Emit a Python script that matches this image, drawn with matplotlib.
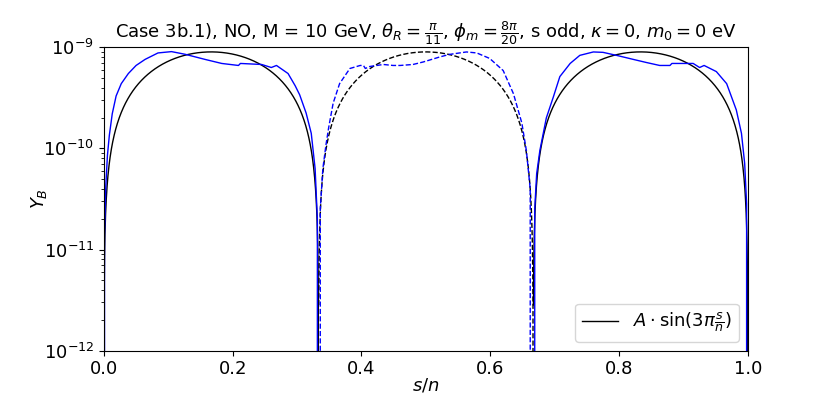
import numpy as np
import matplotlib
matplotlib.use("Agg")
import matplotlib.pyplot as plt

# ---- data ----
A = 9e-10  # amplitude of the reference curve A*sin(3*pi*s/n)

# blue curve, segment 1 (positive, solid)
seg1_s = [0.0, 0.001, 0.003, 0.0055, 0.0085, 0.013, 0.019, 0.027, 0.038, 0.05, 0.064, 0.084,
          0.105, 0.126, 0.157, 0.183, 0.209, 0.212, 0.245, 0.26, 0.268, 0.286, 0.297,
          0.304, 0.314, 0.322, 0.328, 0.3315, 1 / 3]
seg1_y = [0, 1.41e-11, 4.27e-11, 8.5e-11, 1.35e-10, 2.2e-10, 3.3e-10, 4.37e-10, 5.50e-10,
          6.61e-10, 7.59e-10, 8.79e-10, 9.06e-10, 8.53e-10, 7.59e-10, 6.92e-10, 6.61e-10,
          6.92e-10, 6.76e-10, 6.31e-10, 6.61e-10, 5.50e-10, 4.17e-10, 3.39e-10, 2.24e-10,
          1.41e-10, 6.31e-11, 2.0e-11, 0]

# blue curve, segment 2 (negative, dashed)
seg2_s = [1 / 3, 0.336, 0.34, 0.345, 0.349, 0.356, 0.366, 0.382, 0.398, 0.403, 0.406, 0.413,
          0.434, 0.449, 0.46, 0.48, 0.496, 0.522, 0.537, 0.563, 0.579, 0.599, 0.62, 0.636,
          0.649, 0.656, 0.662, 2 / 3]
seg2_y = [0, -2.5e-11, -6.3e-11, -1.1e-10, -1.6e-10, -2.8e-10, -4.37e-10, -6.17e-10,
          -6.61e-10, -6.61e-10, -6.17e-10, -6.46e-10, -6.76e-10, -6.61e-10, -6.61e-10,
          -6.76e-10, -7.16e-10, -8.04e-10, -8.51e-10, -8.99e-10, -8.79e-10, -7.76e-10,
          -5.89e-10, -3.47e-10, -1.78e-10, -9.55e-11, -3.98e-11, 0]

# blue curve, segment 3 (positive, solid)
seg3_s = [2 / 3, 0.669, 0.672, 0.677, 0.687, 0.698, 0.708, 0.724, 0.739, 0.76, 0.775, 0.796,
          0.822, 0.842, 0.863, 0.879, 0.882, 0.915, 0.925, 0.932, 0.951, 0.967, 0.982, 0.99,
          0.995, 0.998, 1.0]
seg3_y = [0, 2.51e-11, 5.62e-11, 9.55e-11, 2.0e-10, 3.24e-10, 5.13e-10, 6.92e-10, 8.32e-10,
          8.99e-10, 8.91e-10, 8.32e-10, 7.59e-10, 7.08e-10, 6.61e-10, 6.61e-10, 6.92e-10,
          6.92e-10, 6.31e-10, 6.61e-10, 5.75e-10, 4.37e-10, 2.40e-10, 1.41e-10, 7.08e-11,
          2.82e-11, 0]

title = (r"Case 3b.1), NO, M = 10 GeV, $\theta_R = \frac{\pi}{11}$, "
         r"$\phi_m = \frac{8\pi}{20}$, s odd, $\kappa = 0$, $m_0 = 0$ eV")
legend_label = r"$A \cdot \sin(3\pi\frac{s}{n})$"

# ---- plot ----
fig, ax = plt.subplots(figsize=(8.31, 3.94), dpi=100)

s = np.linspace(0, 1, 3001)
ref = A * np.sin(3 * np.pi * s)
pos = np.where(ref >= 0, ref, np.nan)
neg = np.where(ref <= 0, -ref, np.nan)
ax.plot(s, pos, color="black", lw=1, label=legend_label)
ax.plot(s, neg, color="black", lw=1, ls="--")

for xs, ys in [(seg1_s, seg1_y), (seg3_s, seg3_y)]:
    ax.plot(xs, np.abs(ys), color="blue", lw=1)
ax.plot(seg2_s, np.abs(seg2_y), color="blue", lw=1, ls="--")

ax.set_yscale("log")
ax.set_ylim(1e-12, 1e-9)
ax.set_xlim(0, 1)
ax.set_xlabel(r"$s/n$", fontsize=13, labelpad=-1)
ax.set_ylabel(r"$Y_B$", fontsize=13, labelpad=-4)
ax.set_title(title, fontsize=13)
ax.tick_params(axis="both", labelsize=13)
ax.legend(loc="lower right", fontsize=13)

fig.savefig("out.png", dpi=100)
